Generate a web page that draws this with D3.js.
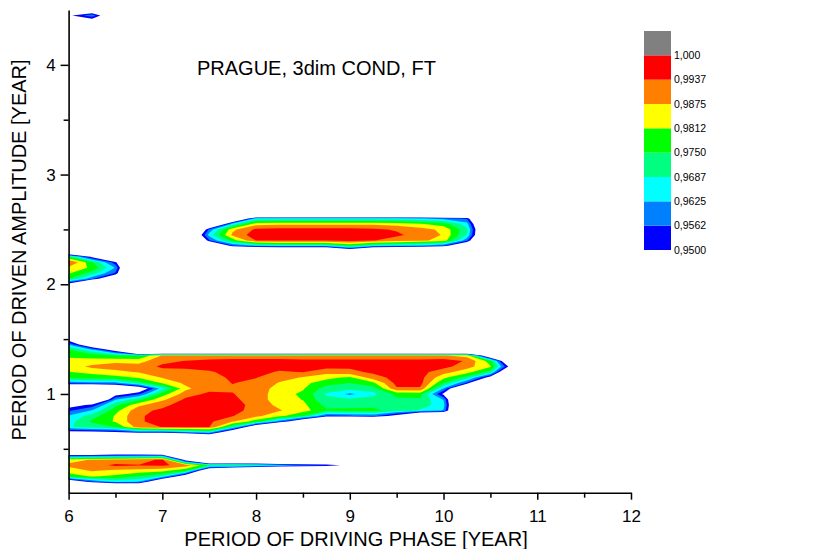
<!DOCTYPE html>
<html><head><meta charset="utf-8">
<script src="https://cdn.jsdelivr.net/npm/d3@7"></script>
<style>
body{margin:0;background:#fff;}
svg{display:block;font-family:"Liberation Sans",Arial,sans-serif;}
</style>
</head><body>
<svg id="chart" width="838" height="549"></svg>
<script>
// ---------- data ----------
const xDomain = [6, 12];
const yDomain = [0.1, 4.5];
const xTicks = [6, 7, 8, 9, 10, 11, 12];
const xMinorTicks = [6.5, 7.5, 8.5, 9.5, 10.5, 11.5];
const yTicks = [1, 2, 3, 4];
const yMinorTicks = [0.5, 1.5, 2.5, 3.5];

// sampling grid of the surface (x: 6.0..11.0 step 0.25, y: 0.10..4.50 step 0.05)
const gridX = { start: 6.0, step: 0.25, count: 21 };
const gridY = { start: 0.10, step: 0.05, count: 89 };
const backgroundValue = 900; // thousandths, below the lowest level

// surface values in thousandths; each row: [y, values from x = 6.0 upward]
const zRows = [
  [0.15, [900,900,910,920,900]],
  [0.20, [935,955,965,962,930,900]],
  [0.25, [978,982,980,975,968,940]],
  [0.30, [984,988,986,985,983,976,930,910]],
  [0.35, [989,991,995,994,995,991,975,976,972,966,960,957,945]],
  [0.40, [985,988,990,991,995,945]],
  [0.45, [945,945,948,948,947]],
  [0.60, [900,900,900,900,900,900,920]],
  [0.65, [945,946,948,955,955,960,965,935]],
  [0.70, [968,972,975,991,994,995,994,970,935]],
  [0.75, [966,976,982,993,996,996,995,988,978,958,935]],
  [0.80, [963,972,982,993,996,997,996,994,989,983,975,955,956,958,945,920,920]],
  [0.85, [955,963,979,992,995,997,997,997,990,988,984,976,977,977,972,968,962]],
  [0.90, [945,952,973,986,992,997,997,997,991,986,983,973,972,973,972,972,965]],
  [0.95, [900,920,962,973,986,995,997,995,991,984,981,970,970,971,974,974,962]],
  [1.00, [900,900,945,955,978,991,995,994,991,984,980,968,961,967,977,978,948]],
  [1.05, [920,915,930,940,966,986,992,993,991,985,982,972,971,972,993,993,962,920]],
  [1.10, [958,960,960,972,982,989,990,994,992,987,983,978,975,980,996,996,975,955]],
  [1.15, [977,978,979,982,988,990,991,995,994,990,987,983,980,991,996,996,983,972,945]],
  [1.20, [981,983,986,988,991,992,993,996,996,993,994,990,992,995,996,996,990,984,972,915]],
  [1.25, [984,989,990,990,995,995,996,997,997,996,996,996,995,996,996,996,996,990,982,940]],
  [1.30, [983,984,986,985,992,994,996,997,997,997,996,996,996,996,996,996,997,993,978,920]],
  [1.35, [980,978,975,975,988,988,988,988,988,988,988,988,988,988,988,988,988,985,930]],
  [1.40, [976,965,945,880,880,880,880,880,880,880,880,880,880,880,880,880,880,880,880]],
  [1.45, [962,935]],
  [1.50, [945]],
  [1.95, [880]],
  [2.00, [945]],
  [2.05, [976,958,930]],
  [2.10, [982,972,955]],
  [2.15, [986,980,962]],
  [2.20, [995,976,952]],
  [2.25, [975,948]],
  [2.30, [920,900,900,900,900,900,900,900,900,900,900,900,930]],
  [2.35, [880,900,900,900,900,900,920,955,962,965,965,965,975,965,962,960,955,930]],
  [2.40, [900,900,900,900,900,900,955,978,994,995,995,995,996,994,991,989,985,958]],
  [2.45, [900,900,900,900,900,920,965,989,997,997,997,997,997,996,995,991,987,968,915]],
  [2.50, [900,900,900,900,900,900,958,986,995,996,996,996,996,995,993,990,986,970,915]],
  [2.55, [900,900,900,900,900,900,920,965,985,986,986,986,986,986,985,982,978,965,910]],
  [2.60, [900,900,900,900,900,900,900,920,965,965,965,965,965,965,965,963,960,955]],
  [2.65, [900,900,900,900,900,900,900,900,880,880,880,880,880,880,880,880,880,880]],
  [4.40, [930,942]],
  [4.45, [948,961,930]],
  [4.50, [940,935]]
];

const levelValues = [0.95, 0.95625, 0.9625, 0.96875, 0.975, 0.98125, 0.9875, 0.99375, 1.0];
const levelLabels = ["0,9500","0,9562","0,9625","0,9687","0,9750","0,9812","0,9875","0,9937","1,000"];
const levelColors = ["#0000FF","#0080FF","#00FFFF","#00FF80","#00FF00","#FFFF00","#FF8000","#FF0000","#808080"];

const chartTitle = "PRAGUE, 3dim COND, FT";
const xTitle = "PERIOD OF DRIVING PHASE [YEAR]";
const yTitle = "PERIOD OF DRIVEN AMPLITUDE [YEAR]";

// ---------- layout ----------
const svg = d3.select("#chart");
const plot = { left: 68.6, right: 631, top: 10, bottom: 492.7 };
const x = d3.scaleLinear().domain(xDomain).range([plot.left, plot.right]);
const y = d3.scaleLinear().domain(yDomain).range([plot.bottom, plot.top]);

// ---------- grid ----------
const rowMap = new Map(zRows.map(r => [Math.round(r[0] * 100), r[1]]));
const values = new Array(gridX.count * gridY.count);
for (let j = 0; j < gridY.count; j++) {
  const yv = Math.round((gridY.start + j * gridY.step) * 100);
  const row = rowMap.get(yv) || [];
  for (let i = 0; i < gridX.count; i++) {
    const v = row[i] !== undefined ? row[i] : backgroundValue;
    values[j * gridX.count + i] = v / 1000;
  }
}

const contours = d3.contours()
  .size([gridX.count, gridY.count])
  .thresholds(levelValues)(values);

const toScreen = d3.geoTransform({
  point: function(cx, cy) {
    this.stream.point(
      x(gridX.start + (cx - 0.5) * gridX.step),
      y(gridY.start + (cy - 0.5) * gridY.step)
    );
  }
});
const path = d3.geoPath(toScreen);

svg.append("defs").append("clipPath").attr("id", "plotClip")
  .append("rect")
  .attr("x", plot.left).attr("y", plot.top)
  .attr("width", plot.right - plot.left).attr("height", plot.bottom - plot.top);

svg.append("g").attr("clip-path", "url(#plotClip)")
  .selectAll("path")
  .data(contours)
  .join("path")
  .attr("d", path)
  .attr("fill", d => levelColors[levelValues.indexOf(d.value)])
  .attr("stroke", "none");

// ---------- axes ----------
const axisFont = 17;
const xAxis = svg.append("g").attr("transform", `translate(0,${plot.bottom})`)
  .call(d3.axisBottom(x).tickValues(xTicks).tickFormat(d3.format("d"))
    .tickSize(7).tickSizeOuter(0).tickPadding(10));
const xMinor = svg.append("g").attr("transform", `translate(0,${plot.bottom})`)
  .call(d3.axisBottom(x).tickValues(xMinorTicks).tickFormat("").tickSize(5).tickSizeOuter(0));
xMinor.select(".domain").remove();

const yAxis = svg.append("g").attr("transform", `translate(${plot.left},0)`)
  .call(d3.axisLeft(y).tickValues(yTicks).tickFormat(d3.format("d"))
    .tickSize(8).tickSizeOuter(0).tickPadding(5));
const yMinor = svg.append("g").attr("transform", `translate(${plot.left},0)`)
  .call(d3.axisLeft(y).tickValues(yMinorTicks).tickFormat("").tickSize(5).tickSizeOuter(0));
yMinor.select(".domain").remove();

svg.selectAll(".tick line").attr("stroke", "#000").attr("stroke-width", 1.5);
svg.selectAll(".domain").attr("stroke", "#000").attr("stroke-width", 1.6);
svg.selectAll(".tick text").attr("font-size", axisFont)
  .attr("font-family", "'Liberation Sans',Arial,sans-serif").attr("fill", "#000");

// ---------- titles ----------
svg.append("text").attr("x", 197).attr("y", 75)
  .attr("font-size", 20).attr("fill", "#000").text(chartTitle);
svg.append("text").attr("x", 356).attr("y", 546).attr("text-anchor", "middle")
  .attr("font-size", 20).attr("fill", "#000").text(xTitle);
svg.append("text").attr("transform", "translate(26,250) rotate(-90)").attr("text-anchor", "middle")
  .attr("font-size", 20).attr("fill", "#000").text(yTitle);

// ---------- legend ----------
const legend = { x: 644, width: 27, top: 31, bottom: 250 };
const ly = d3.scaleLinear().domain([0, levelColors.length]).range([legend.bottom, legend.top]);
const lg = svg.append("g");
lg.selectAll("rect").data(levelColors).join("rect")
  .attr("x", legend.x).attr("width", legend.width)
  .attr("y", (c, i) => ly(i + 1)).attr("height", (c, i) => ly(i) - ly(i + 1))
  .attr("fill", c => c);
lg.selectAll("text").data(levelLabels).join("text")
  .attr("x", legend.x + legend.width + 3).attr("y", (t, i) => ly(i))
  .attr("dy", "0.35em").attr("font-size", 10.5).attr("fill", "#000").text(t => t);
</script>
</body></html>
